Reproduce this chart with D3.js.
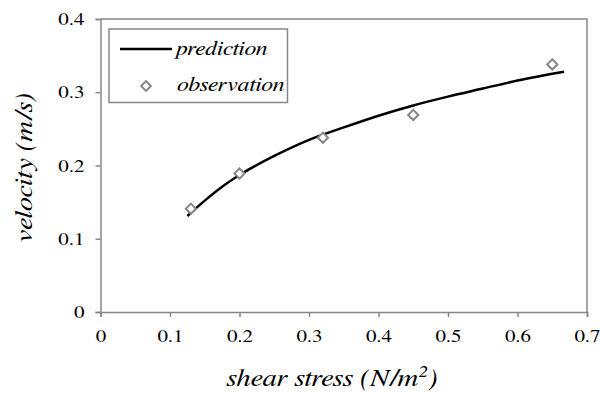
<!DOCTYPE html>
<html lang="en">
<head>
<meta charset="UTF-8">
<title>velocity vs shear stress</title>
<style>
    body { margin: 0; background: #fff; }
</style>
</head>
<body>
<script src="https://cdn.jsdelivr.net/npm/d3@7/dist/d3.min.js"></script>
<script>
    let width = 600;
    let height = 394;
    let padding = {top: 19, right: 13, bottom: 82, left: 100.5};
    let serif = '"FreeSerif", "Liberation Serif", serif';
    let stretch = 1.2; // the source picture is a little wider than tall

    // observed points
    let obsX = [0.13, 0.20, 0.32, 0.45, 0.65];
    let obsY = [0.141, 0.189, 0.238, 0.269, 0.338];
    // prediction curve
    let predX = [0.125, 0.15, 0.175, 0.2, 0.25, 0.3, 0.35, 0.4, 0.45, 0.5, 0.55, 0.6, 0.667];
    let predY = [0.131, 0.152, 0.171, 0.187, 0.213, 0.235, 0.252, 0.268, 0.282, 0.294, 0.305, 0.316, 0.328];
    let xTicks = [0, 0.1, 0.2, 0.3, 0.4, 0.5, 0.6, 0.7];
    let yTicks = [0, 0.1, 0.2, 0.3, 0.4];

    let svg = d3.select("body").append("svg")
        .attr("width", width)
        .attr("height", height);

    let x = d3.scaleLinear().domain([0, 0.7]).range([padding.left, width - padding.right]);
    let y = d3.scaleLinear().domain([0, 0.4]).range([height - padding.bottom, padding.top]);

    let axisColor = "#868686";

    function widen(sel) {
        sel.each(function () {
            let len = this.getComputedTextLength();
            d3.select(this)
                .attr("textLength", len * stretch)
                .attr("lengthAdjust", "spacingAndGlyphs");
        });
    }

    // frame top + right
    svg.append("path")
        .attr("d", `M${x(0)},${y(0.4)}H${x(0.7)}V${y(0)}`)
        .attr("fill", "none")
        .attr("stroke", axisColor)
        .attr("stroke-width", 1.5);

    let fmt = d => d === 0 ? "0" : d3.format(".1f")(d);
    let xAxis = svg.append("g")
        .attr("transform", `translate(0,${y(0)})`)
        .call(d3.axisBottom(x).tickValues(xTicks).tickSize(5).tickPadding(13).tickFormat(fmt));
    let yAxis = svg.append("g")
        .attr("transform", `translate(${x(0)},0)`)
        .call(d3.axisLeft(y).tickValues(yTicks).tickSize(5).tickPadding(11).tickFormat(fmt));

    [xAxis, yAxis].forEach(g => {
        g.attr("font-family", null);
        g.select(".domain").attr("stroke", axisColor).attr("stroke-width", 1.5);
        g.selectAll(".tick line").attr("stroke", axisColor).attr("stroke-width", 1.5);
        g.selectAll(".tick text")
            .attr("fill", "#000")
            .style("font-family", serif)
            .style("font-size", "17.5px")
            .call(widen);
    });

    // prediction line
    let line = d3.line()
        .x((d, i) => x(predX[i]))
        .y(d => y(d))
        .curve(d3.curveMonotoneX);
    svg.append("path")
        .datum(predY)
        .attr("d", line)
        .attr("fill", "none")
        .attr("stroke", "#000")
        .attr("stroke-width", 2.5);

    // observation markers
    let diamond = d3.symbol().type(d3.symbolDiamond2).size(66);
    svg.selectAll(".obs")
        .data(obsY)
        .enter()
        .append("path")
        .attr("class", "obs")
        .attr("transform", (d, i) => `translate(${x(obsX[i])},${y(d)})`)
        .attr("d", diamond)
        .attr("fill", "#fff")
        .attr("stroke", "#868686")
        .attr("stroke-width", 2);

    // legend
    let legend = svg.append("g");
    legend.append("rect")
        .attr("x", 109).attr("y", 29)
        .attr("width", 178.5).attr("height", 73.5)
        .attr("fill", "#fff")
        .attr("stroke", axisColor)
        .attr("stroke-width", 1.5);
    legend.append("line")
        .attr("x1", 120).attr("x2", 172)
        .attr("y1", 49).attr("y2", 49)
        .attr("stroke", "#000")
        .attr("stroke-width", 2.5);
    legend.append("path")
        .attr("transform", "translate(146,86)")
        .attr("d", d3.symbol().type(d3.symbolDiamond2).size(60))
        .attr("fill", "#fff")
        .attr("stroke", "#868686")
        .attr("stroke-width", 2);
    legend.append("text")
        .attr("x", 176).attr("y", 55)
        .style("font-family", serif).style("font-size", "20px").style("font-style", "italic")
        .text("prediction")
        .call(widen);
    legend.append("text")
        .attr("x", 177).attr("y", 91)
        .style("font-family", serif).style("font-size", "20px").style("font-style", "italic")
        .text("observation")
        .call(widen);

    // axis titles
    let xt = svg.append("g")
        .attr("transform", `translate(332,386) scale(${stretch},1)`)
        .append("text")
        .attr("text-anchor", "middle")
        .style("font-family", serif).style("font-size", "24px").style("font-style", "italic");
    xt.append("tspan").text("shear stress (N/m");
    xt.append("tspan").attr("dy", -9).style("font-size", "16px").text("2");
    xt.append("tspan").attr("dy", 9).text(")");

    svg.append("g")
        .attr("transform", `translate(32,168) rotate(-90) scale(${stretch},1)`)
        .append("text")
        .attr("text-anchor", "middle")
        .style("font-family", serif).style("font-size", "24px").style("font-style", "italic")
        .text("velocity (m/s)");
</script>
</body>
</html>
